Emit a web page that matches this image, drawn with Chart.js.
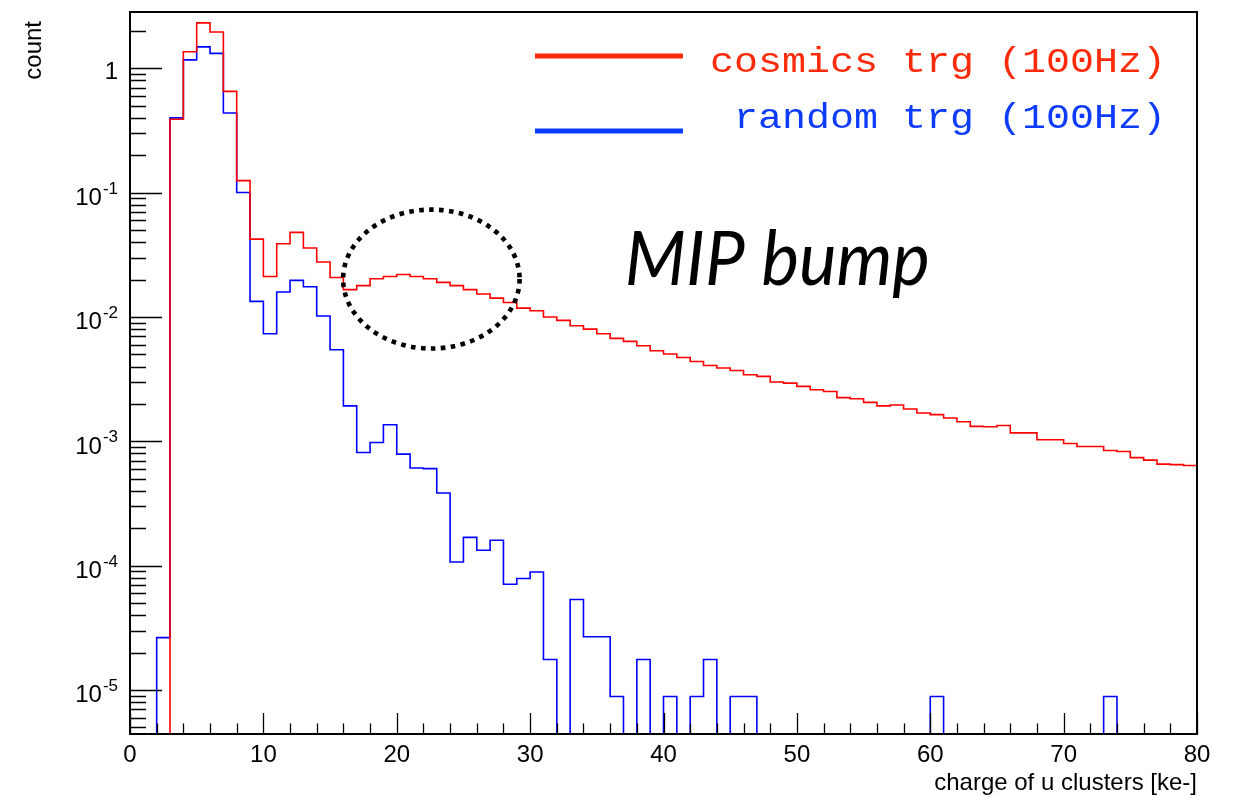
<!DOCTYPE html>
<html><head><meta charset="utf-8">
<script src="https://cdn.jsdelivr.net/npm/chart.js@4/dist/chart.umd.min.js"></script>
<style>html,body{margin:0;padding:0;background:#fff;}canvas{display:block;}</style>
</head><body>
<canvas id="c" width="1240" height="795"></canvas>
<script>
// ---------- data ----------
const binLowEdges = [0,1,2,3,4,5,6,7,8,9,10,11,12,13,14,15,16,17,18,19,20,21,22,23,24,25,26,27,28,29,30,31,32,33,34,35,36,37,38,39,40,41,42,43,44,45,46,47,48,49,50,51,52,53,54,55,56,57,58,59,60,61,62,63,64,65,66,67,68,69,70,71,72,73,74,75,76,77,78,79];
const binUpperEdge = 80;
const cosmicsCounts = [0,0,0,0.39,1.36,2.32,1.96,0.653,0.125,0.0423,
  0.0212,0.0389,0.048,0.0359,0.0277,0.0208,0.0166,0.0179,0.0203,0.0212,
  0.0220,0.0212,0.0203,0.0190,0.0179,0.0166,0.0153,0.0142,0.0131,0.0118,
  0.01124,0.0100,0.0094,0.0085,0.0080,0.00734,0.00673,0.00637,0.00588,0.00536,
  0.00504,0.00473,0.00439,0.00408,0.00389,0.00372,0.00343,0.00333,0.0030,0.00294,
  0.00277,0.0026,0.00252,0.00225,0.0022,0.00206,0.00193,0.00196,0.00182,0.00169,
  0.00164,0.00154,0.00144,0.00132,0.00131,0.00134,0.00117,0.00117,0.00103,0.00103,
  0.00096,0.00091,0.00091,0.000845,0.00083,0.00074,0.000706,0.000656,0.00065,0.00064];
const randomCounts = [0,0,2.64e-5,0.40,1.17,1.49,1.32,0.438,0.1005,0.01336,
  0.00734,0.0159,0.0197,0.0175,0.0102,0.00546,0.00193,0.000814,0.00098,0.00136,
  0.00079,0.00061,0.000604,0.000384,1.07e-4,1.69e-4,1.33e-4,1.6e-4,7.1e-5,7.9e-5,
  8.9e-5,1.76e-5,0,5.35e-5,2.68e-5,2.68e-5,8.87e-6,0,1.76e-5,0,
  8.87e-6,0,8.87e-6,1.76e-5,0,8.87e-6,8.87e-6,0,0,0,
  0,0,0,0,0,0,0,0,0,0,
  8.87e-6,0,0,0,0,0,0,0,0,0,
  0,0,0,8.87e-6,0,0,0,0,0,0];
const seriesLabels = ['cosmics trg (100Hz)', 'random trg (100Hz)'];
const xTickValues = [0,10,20,30,40,50,60,70,80];
const xTickLabels = ['0','10','20','30','40','50','60','70','80'];
const yTickValues = [1e-5,1e-4,1e-3,1e-2,1e-1,1];
const yTickBases = ['10','10','10','10','10','1'];
const yTickExponents = ['-5','-4','-3','-2','-1',''];
const xRange = [0, 80];
const yRange = [4.43e-6, 2.84];
const xTitle = 'charge of u clusters [ke-]';
const yTitle = 'count';
const annotationText = 'MIP bump';
// annotation anchors (data units)
const annotationTextAt = {x: 37.1, y: 0.0182};
const ellipseBox = {x0: 15.98, x1: 29.21, yTop: 0.0731, yBottom: 0.00558};

// ---------- helpers ----------
// ROOT draws empty bins of a log-scale histogram on the bottom of the frame
function stepPoints(vals){
  const pts = binLowEdges.map((x,i)=>({x:x, y: vals[i] > 0 ? vals[i] : yRange[0]}));
  const last = vals[vals.length-1];
  pts.push({x: binUpperEdge, y: last > 0 ? last : yRange[0]});
  return pts;
}
const HIST_COLORS = ['#ff0000', '#0000ff'];
const LEGEND_COLORS = ['#ff2a0a', '#0d3cff'];
const LABEL_FONT = '"Liberation Sans", Arial, sans-serif';

const rootStyle = {
  id: 'rootStyle',
  afterDatasetsDraw(chart){
    const ctx = chart.ctx, a = chart.chartArea;
    const xs = chart.scales.x, ys = chart.scales.y;
    ctx.save();
    ctx.strokeStyle = '#000';
    ctx.lineWidth = 1.3;
    ctx.beginPath();
    for (let v = xs.min; v <= xs.max + 1e-9; v += 2) {
      const px = Math.round(xs.getPixelForValue(v)) + 0.5;
      const len = (v % 10 === 0) ? 21 : 10.5;
      ctx.moveTo(px, a.bottom); ctx.lineTo(px, a.bottom - len);
    }
    for (let e = -7; e <= 1; e++) {
      for (let k = 1; k <= 9; k++) {
        const v = k * Math.pow(10, e);
        if (v < ys.min || v > ys.max) continue;
        const py = Math.round(ys.getPixelForValue(v)) + 0.5;
        const len = (k === 1) ? 32 : 16;
        ctx.moveTo(a.left, py); ctx.lineTo(a.left + len, py);
      }
    }
    ctx.stroke();
    ctx.lineWidth = 2;
    ctx.strokeRect(a.left, a.top, a.right - a.left, a.bottom - a.top);
    ctx.restore();
  },
  afterDraw(chart){
    const ctx = chart.ctx, a = chart.chartArea;
    const xs = chart.scales.x, ys = chart.scales.y;
    ctx.save();
    // y tick labels with superscript exponents (ROOT style)
    ctx.fillStyle = '#000';
    ctx.textBaseline = 'alphabetic';
    ctx.textAlign = 'right';
    const labelRight = a.left - 12;
    yTickValues.forEach((v, i) => {
      const py = ys.getPixelForValue(v);
      const exp = yTickExponents[i];
      if (exp) {
        ctx.font = '17px ' + LABEL_FONT;
        const ew = ctx.measureText(exp).width;
        ctx.fillText(exp, labelRight, py + 1);
        ctx.font = '24px ' + LABEL_FONT;
        ctx.fillText(yTickBases[i], labelRight - ew - 1, py + 12.3);
      } else {
        ctx.font = '24px ' + LABEL_FONT;
        ctx.fillText(yTickBases[i], labelRight, py + 10.5);
      }
    });
    // dotted ellipse
    const ex0 = xs.getPixelForValue(ellipseBox.x0), ex1 = xs.getPixelForValue(ellipseBox.x1);
    const ey0 = ys.getPixelForValue(ellipseBox.yTop), ey1 = ys.getPixelForValue(ellipseBox.yBottom);
    ctx.beginPath();
    ctx.ellipse((ex0+ex1)/2, (ey0+ey1)/2, (ex1-ex0)/2, (ey1-ey0)/2, 0, 0, Math.PI*2);
    ctx.setLineDash([4.6, 5.4]);
    ctx.lineWidth = 4.6;
    ctx.lineCap = 'butt';
    ctx.strokeStyle = '#000';
    ctx.stroke();
    ctx.setLineDash([]);
    // MIP bump text
    ctx.fillStyle = '#000';
    ctx.font = 'italic 76px Lato, "Open Sans", sans-serif';
    ctx.textAlign = 'left';
    ctx.textBaseline = 'alphabetic';
    const tw = ctx.measureText(annotationText).width;
    const tx = xs.getPixelForValue(annotationTextAt.x), ty = ys.getPixelForValue(annotationTextAt.y);
    ctx.save();
    ctx.translate(tx, ty);
    ctx.scale(305 / tw, 1);
    ctx.fillText(annotationText, 0, 0);
    ctx.restore();
    // legend
    const legendRows = [{lineY: 56, textY: 72}, {lineY: 131, textY: 128}];
    ctx.font = '35px "Liberation Mono", "DejaVu Sans Mono", monospace';
    const ref = ctx.measureText(seriesLabels[0]).width;
    const sx = 456 / ref;
    chart.data.datasets.forEach((ds, i) => {
      const r = legendRows[i];
      ctx.strokeStyle = LEGEND_COLORS[i];
      ctx.lineWidth = 5;
      ctx.beginPath();
      ctx.moveTo(535, r.lineY); ctx.lineTo(683, r.lineY);
      ctx.stroke();
      ctx.fillStyle = LEGEND_COLORS[i];
      ctx.save();
      ctx.translate(1166, r.textY);
      ctx.scale(sx, 1);
      ctx.textAlign = 'right';
      ctx.fillText(ds.label, 0, 0);
      ctx.restore();
    });
    // axis titles
    ctx.fillStyle = '#000';
    ctx.font = '24px ' + LABEL_FONT;
    ctx.textAlign = 'right';
    ctx.textBaseline = 'alphabetic';
    ctx.fillText(xTitle, a.right, 789.5);
    ctx.save();
    ctx.translate(41, 21);
    ctx.rotate(-Math.PI/2);
    ctx.textAlign = 'right';
    ctx.fillText(yTitle, 0, 0);
    ctx.restore();
    ctx.restore();
  }
};

new Chart(document.getElementById('c'), {
  type: 'line',
  data: {
    datasets: [
      {label: seriesLabels[0], data: stepPoints(cosmicsCounts), borderColor: HIST_COLORS[0], borderWidth: 1.6, pointRadius: 0, stepped: 'before', fill: false, order: 0},
      {label: seriesLabels[1], data: stepPoints(randomCounts), borderColor: HIST_COLORS[1], borderWidth: 1.6, pointRadius: 0, stepped: 'before', fill: false, order: 1}
    ]
  },
  options: {
    responsive: false,
    devicePixelRatio: 1,
    animation: false,
    layout: {padding: {top: 12, right: 43, left: 0, bottom: 0}},
    plugins: {legend: {display: false}, tooltip: {enabled: false}},
    scales: {
      x: {
        type: 'linear', min: xRange[0], max: xRange[1],
        grid: {display: false, drawTicks: false},
        border: {display: false},
        afterBuildTicks(s){ s.ticks = xTickValues.map(v => ({value: v})); },
        afterFit(s){ s.height = 61; s.paddingLeft = 0; s.paddingRight = 0; },
        ticks: {
          autoSkip: false, maxRotation: 0, padding: 7, color: '#000',
          font: {family: LABEL_FONT, size: 24},
          callback: (v) => { const i = xTickValues.indexOf(v); return i < 0 ? '' : xTickLabels[i]; }
        }
      },
      y: {
        type: 'logarithmic', min: yRange[0], max: yRange[1], bounds: 'data',
        grid: {display: false, drawTicks: false},
        border: {display: false},
        afterBuildTicks(s){ s.ticks = yTickValues.map(v => ({value: v})); },
        afterFit(s){ s.width = 130; s.paddingTop = 0; s.paddingBottom = 0; },
        ticks: {display: false}
      }
    }
  },
  plugins: [rootStyle]
});
</script>
</body></html>
